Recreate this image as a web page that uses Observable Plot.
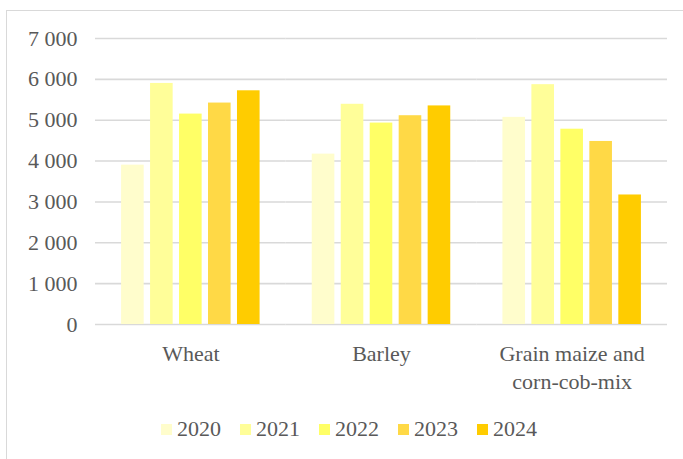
<!DOCTYPE html>
<html>
<head>
<meta charset="utf-8">
<script src="https://cdn.jsdelivr.net/npm/d3@7"></script>
<script src="https://cdn.jsdelivr.net/npm/@observablehq/plot@0.6"></script>
<style>
  html, body { margin: 0; padding: 0; background: #fff; overflow: hidden; }
  #wrap { position: relative; width: 683px; height: 459px; overflow: hidden; font-family: "Liberation Serif", "Times New Roman", serif; }
  #frame { position: absolute; left: 6px; top: 10px; width: 740px; height: 520px; border: 1.5px solid #d9d9d9; box-sizing: border-box; }
  #chart { position: absolute; left: 0; top: 0; }
  #legend { position: absolute; left: 161px; top: 416px; display: flex; align-items: center; color: #595959; font-size: 22px; }
  .item { display: flex; align-items: center; margin-right: 19px; }
  .sw { width: 11px; height: 11px; margin-right: 5px; }
</style>
</head>
<body>
<div id="wrap">
  <div id="frame"></div>
  <div id="chart"></div>
  <div id="legend"></div>
</div>
<script>
const categories = ["Wheat", "Barley", "Grain maize and corn-cob-mix"];
const categoryLabels = ["Wheat", "Barley", "Grain maize and\ncorn-cob-mix"];
const years = ["2020", "2021", "2022", "2023", "2024"];
const wheat  = [3900, 5900, 5150, 5420, 5720];
const barley = [4170, 5390, 4930, 5110, 5350];
const maize  = [5070, 5870, 4780, 4480, 3170];
const yTicks = [0, 1000, 2000, 3000, 4000, 5000, 6000, 7000];
const colors = ["#FFFDCC", "#FFFE99", "#FFFF66", "#FFD946", "#FFCC00"];

const series = [wheat, barley, maize];
const data = categories.flatMap((c, i) => years.map((y, j) => ({category: c, year: y, value: series[i][j]})));
const fmt = d => d3.format(",")(d).replace(/,/g, " ");

const chart = Plot.plot({
  width: 683,
  height: 400,
  marginLeft: 95,
  marginRight: 16,
  marginTop: 38,
  marginBottom: 76,
  style: {fontFamily: "'Liberation Serif', 'Times New Roman', serif", fontSize: "22px", color: "#595959", background: "transparent", overflow: "visible"},
  fx: {domain: categories, padding: 0, round: false, axis: null},
  x: {domain: years, paddingInner: 0.22, paddingOuter: 0.9, round: false, axis: null},
  y: {domain: [0, 7000], ticks: yTicks, tickSize: 0, tickPadding: 18, tickFormat: fmt, label: null},
  color: {domain: years, range: colors},
  marks: [
    Plot.ruleY(yTicks, {stroke: "#d9d9d9", strokeWidth: 1.6}),
    Plot.barY(data, {fx: "category", x: "year", y: "value", fill: "year"}),
    Plot.text(categories, {fx: d => d, text: (d, i) => categoryLabels[i], frameAnchor: "bottom", dy: 16, lineAnchor: "top", lineHeight: 1.3, fill: "#595959", fontSize: 22})
  ]
});
document.getElementById("chart").appendChild(chart);

const legend = document.getElementById("legend");
years.forEach((y, i) => {
  const item = document.createElement("div");
  item.className = "item";
  const sw = document.createElement("div");
  sw.className = "sw";
  sw.style.background = colors[i];
  const t = document.createElement("span");
  t.textContent = y;
  item.appendChild(sw);
  item.appendChild(t);
  legend.appendChild(item);
});
</script>
</body>
</html>
